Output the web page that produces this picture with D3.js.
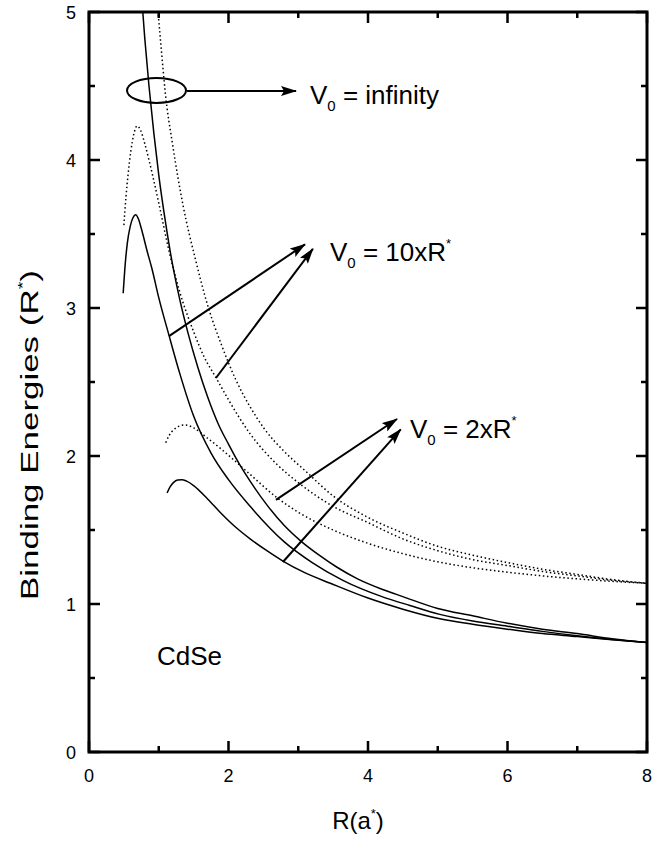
<!DOCTYPE html>
<html>
<head>
<meta charset="utf-8">
<script src="https://cdn.jsdelivr.net/npm/d3@7"></script>
<style>
  body { margin: 0; background: #fff; }
  text { font-family: "Liberation Sans", Arial, Helvetica, sans-serif; fill: #000; }
</style>
</head>
<body>
<svg id="chart" width="670" height="846"></svg>
<script>
// Binding energy (R*) vs dot radius R (a*) as [R, E] pairs
const solidInf = [[0.76,5.07],[0.8,4.82],[0.86,4.5],[0.93,4.18],[1.0,3.9],[1.1,3.57],[1.18,3.34],[1.3,3.06],[1.42,2.83],[1.56,2.6],[1.7,2.4],[1.85,2.22],[2.0,2.08],[2.15,1.95],[2.31,1.83],[2.55,1.67],[2.8,1.53],[3.05,1.42],[3.3,1.33],[3.55,1.25],[3.85,1.17],[4.2,1.1],[4.5,1.05],[5.0,0.97],[5.5,0.92],[6.0,0.87],[6.5,0.83],[7.0,0.8],[7.5,0.765],[8.0,0.74]];
const solid10 = [[0.49,3.1],[0.52,3.3],[0.55,3.44],[0.59,3.55],[0.63,3.61],[0.67,3.63],[0.71,3.6],[0.76,3.52],[0.83,3.39],[0.9,3.27],[1.0,3.07],[1.15,2.81],[1.3,2.56],[1.5,2.27],[1.75,2.02],[2.0,1.84],[2.31,1.66],[2.8,1.42],[3.2,1.28],[3.64,1.16],[4.2,1.05],[4.6,0.99],[5.03,0.93],[5.5,0.885],[6.0,0.85],[6.5,0.815],[7.0,0.785],[7.5,0.76],[8.0,0.74]];
const solid2 = [[1.12,1.75],[1.16,1.79],[1.21,1.82],[1.27,1.838],[1.33,1.84],[1.4,1.83],[1.5,1.8],[1.7,1.71],[1.9,1.61],[2.1,1.52],[2.31,1.44],[2.55,1.36],[2.78,1.29],[3.1,1.21],[3.46,1.14],[4.0,1.04],[4.5,0.965],[5.03,0.9],[5.5,0.863],[6.0,0.83],[6.5,0.8],[7.0,0.78],[7.5,0.758],[8.0,0.74]];
const dottedInf = [[0.97,5.12],[0.99,5.0],[1.04,4.73],[1.09,4.47],[1.2,4.1],[1.35,3.69],[1.52,3.34],[1.7,3.02],[1.9,2.75],[2.1,2.52],[2.3,2.34],[2.52,2.18],[2.8,2.03],[3.1,1.9],[3.5,1.73],[4.0,1.585],[4.5,1.48],[5.0,1.39],[5.5,1.33],[6.0,1.28],[6.5,1.235],[7.0,1.2],[7.5,1.165],[8.0,1.14]];
const dotted10 = [[0.5,3.56],[0.53,3.75],[0.56,3.9],[0.6,4.06],[0.64,4.17],[0.69,4.23],[0.74,4.2],[0.8,4.11],[0.86,4.0],[0.92,3.88],[1.0,3.71],[1.15,3.38],[1.3,3.11],[1.5,2.84],[1.65,2.67],[1.82,2.53],[2.0,2.38],[2.31,2.15],[2.68,1.95],[3.0,1.82],[3.5,1.66],[4.0,1.55],[4.5,1.44],[5.0,1.36],[5.5,1.3],[6.0,1.26],[6.5,1.22],[7.0,1.19],[7.5,1.16],[8.0,1.14]];
const dotted2 = [[1.1,2.09],[1.15,2.14],[1.22,2.18],[1.3,2.203],[1.38,2.21],[1.5,2.19],[1.7,2.12],[1.9,2.045],[2.06,1.98],[2.3,1.88],[2.69,1.72],[3.0,1.62],[3.5,1.5],[4.0,1.41],[4.5,1.34],[5.0,1.285],[5.5,1.245],[6.0,1.215],[6.5,1.19],[7.0,1.17],[7.5,1.153],[8.0,1.14]];

const xMajor = [0, 2, 4, 6, 8];
const xMinor = [1, 3, 5, 7];
const yMajor = [0, 1, 2, 3, 4, 5];
const yMinor = [0.5, 1.5, 2.5, 3.5, 4.5];

// annotation anchors, in data units: [from, to]
const arrowsInf = [[[1.405, 4.466], [2.968, 4.466]]];
const arrows10 = [[[1.147, 2.81], [3.097, 3.43]], [[1.82, 2.527], [3.21, 3.4]]];
const arrows2 = [[[2.68, 1.703], [4.416, 2.25]], [[2.78, 1.284], [4.47, 2.18]]];

const svg = d3.select('#chart');
const x = d3.scaleLinear().domain([0, 8]).range([89, 647]);
const y = d3.scaleLinear().domain([0, 5]).range([752, 12]);

const defs = svg.append('defs');
defs.append('clipPath').attr('id', 'plot-clip')
  .append('rect')
  .attr('x', x(0)).attr('y', y(5))
  .attr('width', x(8) - x(0)).attr('height', y(0) - y(5));

defs.append('marker')
  .attr('id', 'head')
  .attr('markerUnits', 'userSpaceOnUse')
  .attr('markerWidth', 16)
  .attr('markerHeight', 10)
  .attr('refX', 15)
  .attr('refY', 5)
  .attr('orient', 'auto')
  .append('path')
  .attr('d', 'M0,0 L16,5 L0,10 L3,5 Z')
  .attr('fill', '#000');

// curves
const line = d3.line()
  .x(d => x(d[0]))
  .y(d => y(d[1]))
  .curve(d3.curveMonotoneX);

const curves = svg.append('g').attr('clip-path', 'url(#plot-clip)');
[solidInf, solid10, solid2].forEach(s => {
  curves.append('path').datum(s)
    .attr('d', line)
    .attr('fill', 'none')
    .attr('stroke', '#000')
    .attr('stroke-width', 1.5);
});
[dottedInf, dotted10, dotted2].forEach(s => {
  curves.append('path').datum(s)
    .attr('d', line)
    .attr('fill', 'none')
    .attr('stroke', '#000')
    .attr('stroke-width', 1.5)
    .attr('stroke-dasharray', '1.5,2.6');
});

// frame + inward ticks on all four sides, built as one path
const x0 = x(0), x1 = x(8), y0 = y(0), y1 = y(5);
const tickPath = d3.path();
const xTicks = xMajor.map(v => [v, 11]).concat(xMinor.map(v => [v, 6]));
const yTicks = yMajor.map(v => [v, 11]).concat(yMinor.map(v => [v, 6]));
xTicks.forEach(([v, len]) => {
  tickPath.moveTo(x(v), y0); tickPath.lineTo(x(v), y0 - len);
  tickPath.moveTo(x(v), y1); tickPath.lineTo(x(v), y1 + len);
});
yTicks.forEach(([v, len]) => {
  tickPath.moveTo(x0, y(v)); tickPath.lineTo(x0 + len, y(v));
  tickPath.moveTo(x1, y(v)); tickPath.lineTo(x1 - len, y(v));
});
svg.append('path')
  .attr('d', tickPath.toString())
  .attr('fill', 'none')
  .attr('stroke', '#000')
  .attr('stroke-width', 2.5);

svg.append('rect')
  .attr('x', x0).attr('y', y1)
  .attr('width', x1 - x0).attr('height', y0 - y1)
  .attr('fill', 'none')
  .attr('stroke', '#000')
  .attr('stroke-width', 3);

// tick labels
svg.append('g').selectAll('text').data(xMajor).join('text')
  .attr('x', d => x(d)).attr('y', y0 + 30)
  .attr('text-anchor', 'middle')
  .attr('font-size', 18)
  .text(d => d);
svg.append('g').selectAll('text').data(yMajor).join('text')
  .attr('x', x0 - 13).attr('y', d => y(d) + 6.5)
  .attr('text-anchor', 'end')
  .attr('font-size', 18)
  .text(d => d);

// axis titles
const xt = svg.append('text')
  .attr('x', 358).attr('y', 829)
  .attr('text-anchor', 'middle')
  .attr('font-size', 24);
xt.append('tspan').text('R(a');
xt.append('tspan').attr('font-size', 13).attr('dy', -11).text('*');
xt.append('tspan').attr('dy', 11).text(')');

const ytl = svg.append('text')
  .attr('transform', 'translate(38,435) rotate(-90)')
  .attr('text-anchor', 'middle')
  .attr('font-size', 23)
  .attr('textLength', 330)
  .attr('lengthAdjust', 'spacingAndGlyphs');
ytl.append('tspan').text('Binding Energies (R');
ytl.append('tspan').attr('font-size', 13).attr('dy', -11).text('*');
ytl.append('tspan').attr('dy', 11).text(')');

// annotations
const ann = svg.append('g');
ann.append('ellipse')
  .attr('cx', x(0.968)).attr('cy', y(4.47))
  .attr('rx', 29.5).attr('ry', 12.5)
  .attr('fill', 'none')
  .attr('stroke', '#000')
  .attr('stroke-width', 2);

[...arrowsInf, ...arrows10, ...arrows2].forEach(a => {
  ann.append('line')
    .attr('x1', x(a[0][0])).attr('y1', y(a[0][1]))
    .attr('x2', x(a[1][0])).attr('y2', y(a[1][1]))
    .attr('stroke', '#000')
    .attr('stroke-width', 2)
    .attr('marker-end', 'url(#head)');
});

const label = (px, py, rest, star) => {
  const t = ann.append('text').attr('x', px).attr('y', py).attr('font-size', 26);
  t.append('tspan').text('V');
  t.append('tspan').attr('font-size', 15).attr('dy', 7).text('0');
  t.append('tspan').attr('dy', -7).text(' = ' + rest);
  if (star) t.append('tspan').attr('font-size', 13).attr('dy', -13).text('*');
};
label(310, 104, 'infinity', false);
label(330, 261, '10xR', true);
label(410, 438, '2xR', true);

ann.append('text')
  .attr('x', 157).attr('y', 665)
  .attr('font-size', 26)
  .text('CdSe');
</script>
</body>
</html>
